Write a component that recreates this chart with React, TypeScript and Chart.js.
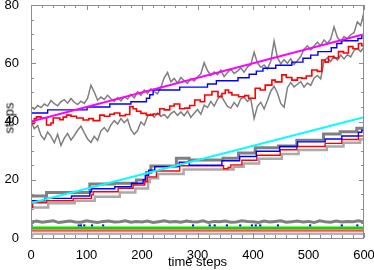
import React, { useEffect, useRef } from "react";
import { Chart, registerables } from "chart.js";
Chart.register(...registerables);

// ---- axis ticks ----
const xMajorTicks = [0, 100, 200, 300, 400, 500, 600];
const xMinorTicks = [0, 20, 40, 60, 80, 100, 120, 140, 160, 180, 200, 220, 240, 260, 280, 300, 320, 340, 360, 380, 400, 420, 440, 460, 480, 500, 520, 540, 560, 580, 600];
const yMajorTicks = [0, 20, 40, 60, 80];
const yMinorTicks = [0, 5, 10, 15, 20, 25, 30, 35, 40, 45, 50, 55, 60, 65, 70, 75, 80];
const xTitle = "time steps";
const yTitle = "steps";

// ---- top group ----
const topX = [0,6,12,18,24,30,36,42,48,54,60,66,72,78,84,90,96,102,108,114,120,126,132,138,144,150,156,162,168,174,180,186,192,198,204,210,216,222,228,234,240,246,252,258,264,270,276,282,288,294,300,306,312,318,324,330,336,342,348,354,360,366,372,378,384,390,396,402,408,414,420,426,432,438,444,450,456,462,468,474,480,486,492,498,504,510,516,522,528,534,540,546,552,558,564,570,576,582,588,594,600];
const upperGreyY = [
  45.0,44.2,45.5,44.8,46.0,45.3,47.2,46.1,45.4,46.8,
  47.5,46.3,47.9,46.6,45.8,47.0,46.2,48.0,52.5,50.1,
  47.3,48.4,47.6,49.0,47.8,46.9,48.2,47.1,48.5,47.7,
  49.3,48.1,50.2,49.0,50.8,49.6,51.2,50.3,49.5,51.8,
  55.0,56.8,53.6,54.8,53.2,55.1,54.0,53.1,54.7,53.9,
  55.3,56.4,60.2,57.5,55.8,57.0,56.1,57.6,55.4,56.8,
  57.9,56.5,57.3,58.4,56.9,58.8,59.5,63.8,60.1,58.6,
  59.4,58.1,60.7,67.6,62.0,59.8,61.2,60.0,61.5,59.6,
  60.9,62.3,64.8,66.0,64.6,65.9,67.2,66.1,68.0,66.8,
  68.3,72.5,68.9,67.5,69.2,68.4,69.8,70.5,74.2,73.0,
  77.5];
const lowerGreyY = [
  40.0,37.5,38.6,35.2,33.8,36.4,34.9,32.7,35.6,31.8,
  34.3,35.9,33.6,35.2,37.0,38.4,36.1,34.0,32.8,34.9,
  33.5,36.8,37.9,36.5,38.8,40.3,39.1,41.0,39.6,40.8,
  37.2,35.6,36.9,39.8,38.7,41.8,42.6,41.5,42.9,41.8,
  42.4,41.2,42.7,43.5,42.1,43.3,42.0,43.6,41.4,42.8,
  44.1,42.5,45.6,44.8,46.9,45.3,47.6,48.9,47.1,45.2,
  44.6,46.5,45.1,47.8,48.3,46.9,47.9,41.0,45.2,46.6,
  44.3,47.2,50.4,52.1,49.8,46.2,44.9,51.6,53.4,51.9,
  52.8,53.7,51.8,53.2,52.4,54.9,55.8,54.6,60.8,61.9,
  60.6,62.4,61.1,62.8,61.5,62.9,62.2,64.3,65.1,64.0,
  65.5];
const redTopX = [0,3,6,10,18,28,36,40,52,58,64,72,82,94,104,112,124,132,142,150,160,170,178,184,190,198,208,220,232,240,250,258,268,277,286,295,305,313,326,337,344,350,356,362,374,385,392,404,413,422,434,440,452,460,470,480,488,496,506,516,524,530,536,545,554,563,572,580,590,596,600];
const redTopY = [40.0,39.3,41.0,41.6,41.2,38.8,39.5,41.2,40.6,41.5,42.2,41.8,41.2,40.5,41.0,40.3,42.2,41.8,42.5,42.9,42.0,42.4,45.1,44.4,43.5,42.8,42.2,42.6,44.4,44.0,45.3,46.0,44.4,44.6,45.5,47.4,46.8,49.1,50.3,48.5,49.6,50.8,49.9,49.1,48.5,48.9,48.0,51.4,50.8,52.5,54.2,53.6,56.0,55.1,54.2,55.0,54.8,55.6,57.7,57.2,61.1,60.4,62.3,61.8,64.0,63.5,65.7,65.0,66.8,66.0,66.5];
const blueTopX = [0,30,101,142,180,208,214,220,268,318,334,373,393,406,418,441,470,490,504,517,541,551,560,589,596,600];
const blueTopY = [42.9,44.0,45.0,46.0,46.8,48.0,49.2,50.8,51.8,52.9,54.0,55.0,56.2,57.3,58.3,59.3,60.4,61.7,62.8,64.0,65.3,66.8,67.7,68.5,69.7,69.7];
const magentaX = [0, 600];
const magentaY = [40, 70];

// ---- middle group ----
const cyanX = [0, 600];
const cyanY = [12, 41.5];
const greyUpMidX = [0,28,106,150,190,208,216,262,285,346,374,404,446,479,527,557,587,600];
const greyUpMidY = [14.4,15.6,18.5,18.8,19.9,22.5,24.7,27.4,26.8,27.4,29.2,31.0,31.6,33.6,35.7,36.5,37.7,38.3];
const blueMidX = [0,25,73,106,109,151,181,202,206,212,223,267,285,344,376,406,448,480,530,560,590,596,600];
const blueMidY = [12.8,13.6,14.4,15.9,16.9,17.6,18.8,20.0,21.5,23.3,24.5,26.0,25.0,26.5,28.0,29.8,31.4,33.0,34.0,35.0,36.3,37.0,37.0];
const redMidX = [0,3,28,76,109,112,157,184,205,210,226,268,347,355,360,380,407,449,479,530,560,590,600];
const redMidY = [10.5,12.1,12.8,13.6,14.8,15.9,17.1,18.2,19.3,21.0,23.0,24.8,23.8,24.2,25.1,26.7,28.4,30.3,31.4,32.5,33.8,35.0,35.0];
const greyLowMidX = [0,31,79,115,160,188,211,214,229,275,365,383,411,452,482,533,563,593,600];
const greyLowMidY = [10.5,11.9,12.8,14.2,15.6,17.0,19.2,20.5,22.0,23.5,24.5,25.6,27.2,28.8,30.2,31.4,32.7,33.9,34.0];

// ---- bottom group ----
const bottomGreyX = [0,10,20,30,40,50,60,70,80,90,100,110,120,130,140,150,160,170,180,190,200,210,220,230,240,250,260,270,280,290,300,310,320,330,340,350,360,370,380,390,400,410,420,430,440,450,460,470,480,490,500,510,520,530,540,550,560,570,580,590,600];
const bottomGreyY = [5.5,5.8,5.4,5.7,5.9,5.3,5.6,5.8,5.5,5.4,5.9,5.6,5.3,5.7,5.8,5.5,5.6,5.9,5.4,5.7,5.5,5.8,5.3,5.6,5.9,5.5,5.7,5.4,5.8,5.6,5.5,5.9,5.3,5.7,5.6,5.8,5.4,5.5,5.9,5.7,5.6,5.3,5.8,5.5,5.7,5.9,5.4,5.6,5.8,5.5,5.7,5.3,5.9,5.6,5.4,5.8,5.5,5.7,5.6,5.9,5.5];
const blueDotsX = [1,86,90,96,110,130,292,322,331,353,377,398,405,413,445,503,560,588];
const blueDotsY = [4.3,4.3,4.3,4.3,4.3,4.3,4.3,4.3,4.3,4.3,4.3,4.3,4.3,4.3,4.3,4.3,4.3,4.3];
const greenX = [0, 600];
const greenY = [3.5, 3.5];
const redLowX = [0, 600];
const redLowY = [2.6, 2.6];
const greyLowX = [0, 4, 600];
const greyLowY = [0, 1.45, 1.45];

const pts = (xs: number[], ys: number[]) => xs.map((x, i) => ({ x, y: ys[i] }));

const FONT = "'Liberation Sans', Arial, Helvetica, sans-serif";

const framePlugin = {
  id: "frameTicks",
  afterDatasetsDraw(chart: any) {
    const { ctx, chartArea: a, scales } = chart;
    const xs = scales.x;
    const ys = scales.y;
    ctx.save();
    ctx.strokeStyle = "#8c8c8c";
    ctx.lineWidth = 1;
    ctx.beginPath();
    for (const v of xMinorTicks) {
      const px = Math.round(xs.getPixelForValue(v)) + 0.5;
      const len = xMajorTicks.includes(v) ? 5 : 3;
      ctx.moveTo(px, a.bottom);
      ctx.lineTo(px, a.bottom - len);
      ctx.moveTo(px, a.top);
      ctx.lineTo(px, a.top + len);
    }
    for (const v of yMinorTicks) {
      const py = Math.round(ys.getPixelForValue(v)) + 0.5;
      const len = yMajorTicks.includes(v) ? 5 : 3;
      ctx.moveTo(a.left, py);
      ctx.lineTo(a.left + len, py);
      ctx.moveTo(a.right, py);
      ctx.lineTo(a.right - len, py);
    }
    ctx.stroke();
    ctx.strokeRect(Math.round(a.left) + 0.5, Math.round(a.top) + 0.5, Math.round(a.right - a.left) - 1, Math.round(a.bottom - a.top));
    ctx.restore();
  },
};

export default function App() {
  const ref = useRef<HTMLCanvasElement>(null);
  useEffect(() => {
    document.body.style.margin = "0";
    const line = (data: any, color: string, width: number, order: number, stepped: any = false) => ({
      data,
      borderColor: color,
      backgroundColor: color,
      borderWidth: width,
      pointRadius: 0,
      stepped,
      order,
      fill: false,
      tension: 0,
    });
    const chart = new Chart(ref.current as HTMLCanvasElement, {
      type: "line",
      data: {
        datasets: [
          line(pts(topX, upperGreyY), "#7f7f7f", 1.5, 10),
          line(pts(topX, lowerGreyY), "#7f7f7f", 1.5, 10),
          line(pts(redTopX, redTopY), "#ff0000", 1.6, 5, "before"),
          line(pts(blueTopX, blueTopY), "#0000ff", 1.4, 4, "before"),
          line(pts(magentaX, magentaY), "#ff00ff", 2, 1),
          line(pts(greyUpMidX, greyUpMidY), "#808080", 3, 10, "before"),
          line(pts(greyLowMidX, greyLowMidY), "#aaaaaa", 2.5, 10, "before"),
          line(pts(redMidX, redMidY), "#ff0000", 1.4, 5, "before"),
          line(pts(blueMidX, blueMidY), "#0000ff", 1.4, 4, "before"),
          line(pts(cyanX, cyanY), "#00ffff", 2, 1),
          line(pts(bottomGreyX, bottomGreyY), "#808080", 3, 10),
          {
            data: pts(blueDotsX, blueDotsY),
            borderColor: "#0000ff",
            backgroundColor: "#0000ff",
            showLine: false,
            pointRadius: 1.5,
            pointStyle: "rect",
            borderWidth: 0,
            order: 6,
          },
          line(pts(greenX, greenY), "#00e000", 2.5, 3),
          line(pts(redLowX, redLowY), "#ff5050", 2.5, 3),
          line(pts(greyLowX, greyLowY), "#b3b3b3", 2.5, 3),
        ],
      },
      options: {
        responsive: false,
        animation: false,
        layout: { padding: { top: 5, right: 10, left: 0, bottom: 0 } },
        plugins: { legend: { display: false }, tooltip: { enabled: false } },
        scales: {
          x: {
            type: "linear",
            min: 0,
            max: 600,
            ticks: { stepSize: 100, autoSkip: false, color: "#000", font: { family: FONT, size: 13 }, padding: 2, maxRotation: 0 },
            grid: { display: false },
            border: { display: false },
            title: { display: true, text: xTitle, color: "#000", font: { family: FONT, size: 13 }, padding: { top: 0, bottom: 0 } },
            afterFit: (s: any) => {
              s.height = 32;
              s.paddingLeft = 0;
              s.paddingRight = 0;
            },
          },
          y: {
            type: "linear",
            min: 0,
            max: 80,
            ticks: { stepSize: 20, autoSkip: false, color: "#000", font: { family: FONT, size: 13 }, padding: 4 },
            grid: { display: false },
            border: { display: false },
            title: { display: false },
            afterFit: (s: any) => {
              s.width = 31;
              s.paddingTop = 0;
              s.paddingBottom = 0;
            },
          },
        },
      },
      plugins: [framePlugin],
    } as any);
    return () => chart.destroy();
  }, []);
  return (
    <div style={{ width: 374, height: 270, position: "relative" }}>
      <canvas ref={ref} width={374} height={270} style={{ display: "block", width: 374, height: 270 }} />
      <div
        style={{
          position: "absolute",
          left: 9,
          top: 118,
          transform: "translate(-50%, -50%) rotate(-90deg)",
          fontFamily: FONT,
          fontSize: 13,
          lineHeight: "13px",
          whiteSpace: "nowrap",
          color: "#000",
        }}
      >
        {yTitle}
      </div>
    </div>
  );
}
